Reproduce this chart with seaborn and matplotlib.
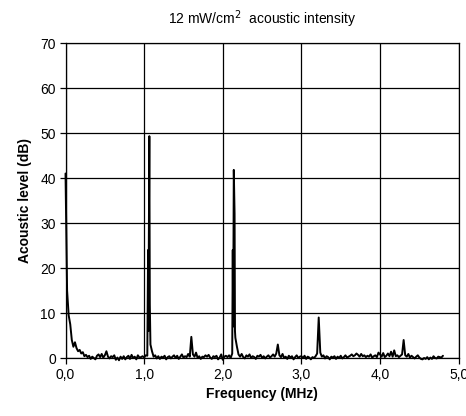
import numpy as np
import pandas as pd
import matplotlib
matplotlib.use("Agg")
import matplotlib.pyplot as plt
import seaborn as sns

# Sampled spectrum on a 0.02 MHz grid (0.00 ... 4.80 MHz), levels in dB
grid_step = 0.02
levels_grid = [
    41, 15, 9.5, 7.5, 4.0, 2.5, 3.5, 2.2, 1.5, 1.8,
    1.0, 1.3, 0.4, 0.7, 0.2, 0.5, -0.2, 0.3, 0.0, -0.3,
    0.5, 0.8, 0.2, 0.9, 0.1, 0.6, 1.5, 0.3, -0.1, 0.4,
    0.2, 0.6, -0.4, 0.1, -0.5, 0.3, -0.2, 0.4, -0.3, 0.2,
    0.5, -0.2, 0.7, 0.0, 0.3, -0.3, 0.6, 0.1, 0.2, 0.4,
    0.1, 0.6, 0.5, 30, 3.0, 1.5, 0.3, 0.6, -0.1, 0.4,
    -0.2, 0.3, 0.1, 0.5, -0.3, 0.2, 0.4, -0.1, 0.3, 0.6,
    0.0, 0.5, -0.2, 0.3, 0.8, 0.1, 0.4, 0.2, 0.9, 0.3,
    4.7, 0.8, 0.3, 1.2, 0.0, 0.4, -0.2, 0.3, 0.2, 0.6,
    0.3, 0.7, 0.1, -0.2, 0.4, 0.2, 0.5, -0.3, 0.1, 0.8,
    -0.4, 0.3, 0.5, 0.2, 0.6, 0.0, 1.0, 41.8, 4.5, 2.5,
    0.8, 0.3, 0.9, 0.2, -0.1, 0.6, 0.3, 0.8, 0.0, 0.4,
    0.2, -0.2, 0.5, 0.3, 0.7, 0.0, 0.4, -0.1, 0.3, 0.6,
    0.1, 0.4, 0.8, 0.3, 1.0, 3.0, 0.6, 0.2, 0.9, 0.0,
    0.3, -0.2, 0.5, 0.1, 0.4, -0.3, 0.2, 0.6, 0.0, 0.3,
    0.4, 0.0, 0.5, -0.2, 0.3, 0.1, -0.3, 0.2, 0.0, 0.4,
    1.0, 9.0, 1.2, 0.3, 0.6, -0.1, 0.4, 0.2, -0.3, 0.3,
    0.1, 0.4, -0.2, 0.3, 0.0, 0.5, -0.1, 0.2, 0.6, 0.1,
    0.3, 0.5, 0.8, 0.4, 0.6, 1.0, 0.7, 0.3, 0.9, 0.4,
    0.6, 0.2, 0.5, 0.3, 0.8, 0.1, 0.4, 0.6, 0.2, 1.2,
    0.8, 0.3, 1.1, 0.2, 0.5, 1.0, 0.4, 1.4, 0.3, 1.7,
    0.4, 0.6, 0.2, 0.5, 0.8, 4.0, 0.6, 0.3, 0.9, 0.1,
    0.5, 0.2, -0.1, 0.3, 0.6, 0.1, -0.2, -0.3, 0.0, -0.2,
    0.2, -0.3, 0.1, -0.2, 0.4, 0.0, -0.1, 0.3, 0.2, 0.1,
    0.5,
]
grid_freqs = [round(i * grid_step, 3) for i in range(len(levels_grid))]

# Extra points resolving the two sharp resonance peaks
peak_freqs = [1.050, 1.054, 1.066, 1.072, 2.127, 2.132, 2.150, 2.155]
peak_levels = [24.0, 6.0, 49.3, 12.0, 24.0, 7.0, 32.0, 6.0]

x_ticks = [0, 1, 2, 3, 4, 5]
x_tick_labels = ["0,0", "1,0", "2,0", "3,0", "4,0", "5,0"]
y_ticks = [0, 10, 20, 30, 40, 50, 60, 70]

df = pd.DataFrame({"freq": grid_freqs + peak_freqs,
                   "level": levels_grid + peak_levels}).sort_values("freq")

sns.set_style("white")
plt.rcParams["font.family"] = ["Liberation Sans", "DejaVu Sans"]
plt.rcParams["text.color"] = "black"
plt.rcParams["axes.labelcolor"] = "black"
plt.rcParams["xtick.color"] = "black"
plt.rcParams["ytick.color"] = "black"

fig = plt.figure(figsize=(4.66, 4.16), dpi=100)
ax = fig.add_axes([0.1406, 0.1394, 0.8437, 0.7572])

sns.lineplot(data=df, x="freq", y="level", ax=ax, color="black",
             linewidth=1.4, sort=False, estimator=None, clip_on=False, zorder=3)

ax.set_xlim(0, 5)
ax.set_ylim(0, 70)
ax.set_xticks(x_ticks)
ax.set_xticklabels(x_tick_labels, fontsize=10)
ax.set_yticks(y_ticks)
ax.set_yticklabels([str(v) for v in y_ticks], fontsize=10)
ax.grid(True, color="black", linewidth=0.9)
ax.set_axisbelow(True)
for s in ax.spines.values():
    s.set_color("black")
    s.set_linewidth(0.9)
ax.tick_params(axis="both", direction="out", length=4, width=0.9,
               color="black", labelcolor="black", left=True, bottom=True, pad=3)

ax.set_xlabel("Frequency (MHz)", fontsize=10, fontweight="bold",
              labelpad=4, color="black")
ax.set_ylabel("Acoustic level (dB)", fontsize=10, fontweight="bold",
              labelpad=6, color="black")
ax.set_title("12 mW/cm$^2$  acoustic intensity", fontsize=10, pad=14,
             color="black")

fig.savefig("out.png", dpi=100)
